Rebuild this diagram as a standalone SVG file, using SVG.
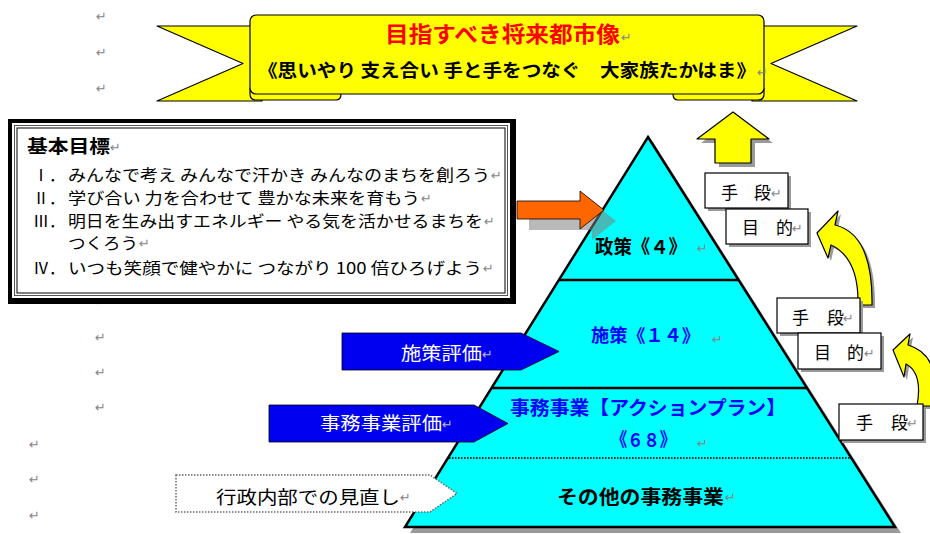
<svg xmlns="http://www.w3.org/2000/svg" width="930" height="534" viewBox="0 0 930 534">
<style>
.jp{font-family:"Noto Sans CJK JP","Noto Sans CJK SC",sans-serif;}
.b{font-weight:700;}
.pm{font-family:"DejaVu Sans",sans-serif;font-size:13px;fill:#858585;}
.yel{fill:#FFFF00;stroke:#000;stroke-width:1.2;stroke-linejoin:round;}
.shd{fill:#9a9a9a;}
.tbox{fill:#fff;stroke:#000;stroke-width:1.2;}
.blue{fill:#0000F0;stroke:#000;stroke-width:0.8;}
.pyr{fill:#00FFFF;stroke:#000;stroke-width:2.5;stroke-linejoin:miter;}
</style>
<rect width="930" height="534" fill="#fff"/>

<!-- paragraph marks in margin -->
<g id="margin-marks">
<text class="pm" x="96" y="21">↵</text>
<text class="pm" x="96" y="57">↵</text>
<text class="pm" x="96" y="93">↵</text>
<text class="pm" x="95" y="306">↵</text>
<text class="pm" x="95" y="342">↵</text>
<text class="pm" x="95" y="377">↵</text>
<text class="pm" x="95" y="412">↵</text>
<text class="pm" x="29" y="449">↵</text>
<text class="pm" x="29" y="484">↵</text>
<text class="pm" x="29" y="520">↵</text>
</g>

<!-- Banner -->
<g id="banner">
<path class="yel" d="M157,26 L262,26 L262,101 L157,101 L243,63.5 Z"/>
<path class="yel" d="M857,26 L752,26 L752,101 L857,101 L771,63.5 Z"/>
<path class="yel" d="M250,88 L336,88 Q341,88 341,94 Q341,100 336,100 L256,100 Q250,100 250,94 Z"/>
<path class="yel" d="M764,88 L678,88 Q673,88 673,94 Q673,100 678,100 L758,100 Q764,100 764,94 Z"/>
<rect class="yel" x="250" y="15" width="514" height="79" rx="6"/>
<text class="jp b" x="385" y="42" font-size="22" fill="#FF0000" textLength="235" lengthAdjust="spacingAndGlyphs">目指すべき将来都市像</text>
<text class="pm" x="621" y="42">↵</text>
<text class="jp b" x="258" y="77" font-size="18" fill="#000" textLength="498" lengthAdjust="spacingAndGlyphs">《思いやり 支え合い 手と手をつなぐ　大家族たかはま》</text>
<text class="pm" x="757" y="77">↵</text>
</g>

<!-- Basic goals box -->
<g id="basic-goals">
<rect x="8" y="119" width="508" height="185" fill="#000"/>
<rect x="12" y="123" width="498" height="175" fill="#fff"/>
<rect x="14.5" y="125.5" width="493" height="170" fill="none" stroke="#555" stroke-width="1"/>
<rect x="17" y="128" width="488" height="165" fill="none" stroke="#000" stroke-width="1"/>
<text class="jp b" x="27" y="153" font-size="18" textLength="83" lengthAdjust="spacingAndGlyphs">基本目標</text>
<text class="pm" x="110" y="152">↵</text>
<g class="jp" font-size="16" fill="#000">
<text x="33" y="181">Ⅰ．</text>
<text x="68" y="181" textLength="422" lengthAdjust="spacingAndGlyphs">みんなで考え みんなで汗かき みんなのまちを創ろう</text>
<text x="33" y="204">Ⅱ．</text>
<text x="68" y="204" textLength="352" lengthAdjust="spacingAndGlyphs">学び合い 力を合わせて 豊かな未来を育もう</text>
<text x="33" y="227">Ⅲ．</text>
<text x="68" y="227" textLength="415" lengthAdjust="spacingAndGlyphs">明日を生み出すエネルギー やる気を活かせるまちを</text>
<text x="68" y="249" textLength="70" lengthAdjust="spacingAndGlyphs">つくろう</text>
<text x="33" y="274">Ⅳ．</text>
<text x="68" y="274" textLength="414" lengthAdjust="spacingAndGlyphs">いつも笑顔で健やかに つながり 100 倍ひろげよう</text>
</g>
<text class="pm" x="491" y="180">↵</text>
<text class="pm" x="421" y="203">↵</text>
<text class="pm" x="484" y="226">↵</text>
<text class="pm" x="139" y="248">↵</text>
<text class="pm" x="483" y="273">↵</text>
</g>

<!-- Pyramid -->
<g id="pyramid">
<polygon class="shd" points="653,142 901,533 410,533"/>
<polygon class="pyr" points="648,137 895,527 405,527"/>
<line x1="559" y1="280" x2="738.6" y2="280" stroke="#000" stroke-width="2.5"/>
<line x1="491.6" y1="388" x2="807" y2="388" stroke="#000" stroke-width="2.5"/>
<line x1="449" y1="458" x2="850" y2="458" stroke="#222" stroke-width="2" stroke-dasharray="1.5 1.5"/>
</g>

<!-- connectors -->
<g id="connectors">
<polygon points="529,212 592,212 592,202 616,221 592,240 592,230 529,230" fill="#808080" fill-opacity="0.55"/>
<polygon points="517,201 580,201 580,191 604,210 580,229 580,219 517,219" fill="#FF6600" stroke="#000" stroke-width="0.8"/>
<polygon class="shd" points="737,116 773,143 755,143 755,167 719,167 719,143 701,143"/>
<polygon class="yel" points="733,112 769,139 751,139 751,163 715,163 715,139 697,139"/>
<path class="shd" d="M820,236 L841,214 L838,228 Q876,237 875,308 L861,308 Q862,261 834,248 L831,261 Z"/>
<path class="yel" d="M817,233 L838,211 L835,225 Q873,234 872,305 L858,305 Q859,258 831,245 L828,258 Z"/>
<path class="shd" d="M896,353 L913,337 L911,348 Q945,358 936,409 L920,409 Q926,376 909,367 L907,380 Z"/>
<path class="yel" d="M893,350 L910,334 L908,345 Q942,355 933,406 L917,406 Q923,373 906,364 L904,377 Z"/>
</g>

<!-- pyramid labels -->
<g id="level-policy">
<text class="jp b" x="595" y="254" font-size="19" textLength="92" lengthAdjust="spacingAndGlyphs">政策《４》</text>
<text class="pm" x="697" y="253">↵</text>
</g>
<g id="level-measure">
<text class="jp b" x="591" y="342" font-size="18" fill="#0000FF" textLength="109" lengthAdjust="spacingAndGlyphs">施策《１４》</text>
<text class="pm" x="712" y="344">↵</text>
</g>
<g id="level-action">
<text class="jp b" x="510" y="415" font-size="19" fill="#0000FF" textLength="276" lengthAdjust="spacingAndGlyphs">事務事業【アクションプラン】</text>
<text class="jp b" x="611" y="447" font-size="19" fill="#0000FF" textLength="65" lengthAdjust="spacingAndGlyphs">《６８》</text>
<text class="pm" x="697" y="448">↵</text>
</g>
<g id="level-other">
<text class="jp b" x="557" y="504" font-size="19" textLength="167" lengthAdjust="spacingAndGlyphs">その他の事務事業</text>
<text class="pm" x="725" y="502">↵</text>
</g>

<!-- evaluation arrows -->
<g id="measure-eval">
<polygon class="blue" points="342,333 521,333 559,351.5 521,370 342,370"/>
<text class="jp" x="401" y="360" font-size="18" fill="#fff" textLength="81" lengthAdjust="spacingAndGlyphs">施策評価</text>
<text class="pm" x="482" y="359" style="fill:#bbb">↵</text>
</g>
<g id="action-eval">
<polygon class="blue" points="269,405 474,405 508,423.5 474,442 269,442"/>
<text class="jp" x="320" y="430" font-size="18" fill="#fff" textLength="122" lengthAdjust="spacingAndGlyphs">事務事業評価</text>
<text class="pm" x="442" y="429" style="fill:#bbb">↵</text>
</g>
<g id="internal-review">
<polygon points="176,475 430,475 457,493.5 430,512 176,512" fill="#fff" stroke="#666" stroke-width="1.5" stroke-dasharray="1.5 1.5"/>
<text class="jp" x="216" y="504" font-size="18" fill="#000" textLength="184" lengthAdjust="spacingAndGlyphs">行政内部での見直し</text>
<text class="pm" x="400" y="502">↵</text>
</g>

<!-- means / ends boxes -->
<g id="means-1">
<rect class="shd" x="708" y="176" width="83" height="35"/>
<rect class="tbox" x="705" y="173" width="83" height="35"/>
<text class="jp" x="721" y="199" font-size="17" textLength="50" lengthAdjust="spacing">手 段</text>
<text class="pm" x="771" y="198">↵</text>
</g>
<g id="ends-1">
<rect class="shd" x="729" y="212" width="82" height="35"/>
<rect class="tbox" x="726" y="209" width="82" height="35"/>
<text class="jp" x="742" y="234" font-size="17" textLength="51" lengthAdjust="spacing">目 的</text>
<text class="pm" x="792" y="233">↵</text>
</g>
<g id="means-2">
<rect class="shd" x="780" y="301" width="83" height="35"/>
<rect class="tbox" x="777" y="298" width="83" height="35"/>
<text class="jp" x="792" y="324" font-size="17" textLength="52" lengthAdjust="spacing">手 段</text>
<text class="pm" x="843" y="323">↵</text>
</g>
<g id="ends-2">
<rect class="shd" x="801" y="336" width="83" height="36"/>
<rect class="tbox" x="798" y="333" width="83" height="36"/>
<text class="jp" x="814" y="359" font-size="17" textLength="50" lengthAdjust="spacing">目 的</text>
<text class="pm" x="864" y="358">↵</text>
</g>
<g id="means-3">
<rect class="shd" x="842" y="407" width="84" height="36"/>
<rect class="tbox" x="839" y="404" width="84" height="36"/>
<text class="jp" x="856" y="429" font-size="17" textLength="52" lengthAdjust="spacing">手 段</text>
<text class="pm" x="907" y="428">↵</text>
</g>
</svg>
